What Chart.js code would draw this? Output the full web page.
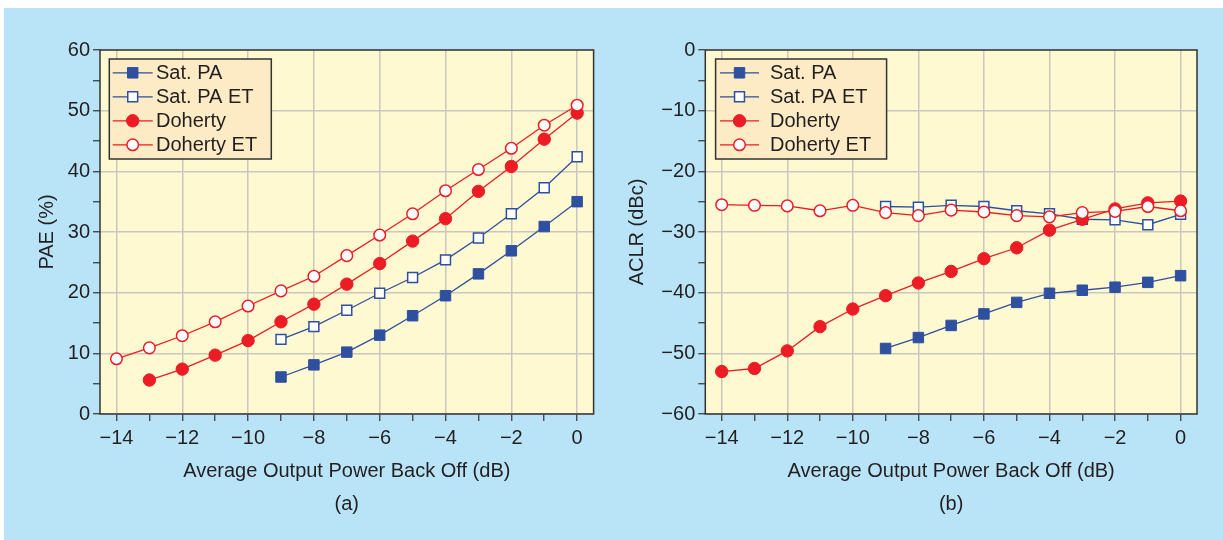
<!DOCTYPE html>
<html>
<head>
<meta charset="utf-8">
<script src="https://cdn.jsdelivr.net/npm/chart.js@4.4.1/dist/chart.umd.min.js"></script>
<style>
    body { margin: 0; background: #ffffff; width: 1223px; height: 540px; overflow: hidden; position: relative; }
    #panel { position: absolute; left: 4px; top: 8px; width: 1219px; height: 532px; background: #b9e4f8; }
    canvas { position: absolute; top: 0; }
    #paeChart { left: 0; }
    #aclrChart { left: 611px; }
</style>
</head>
<body>
<div id="panel"></div>
<canvas id="paeChart" width="611" height="540"></canvas>
<canvas id="aclrChart" width="612" height="540"></canvas>

<script>
// x values (average output power back off, dB)
const backoffShort = [-9, -8, -7, -6, -5, -4, -3, -2, -1, 0];
const backoff13 = [-13, -12, -11, -10, -9, -8, -7, -6, -5, -4, -3, -2, -1, 0];
const backoff14 = [-14, -13, -12, -11, -10, -9, -8, -7, -6, -5, -4, -3, -2, -1, 0];

// (a) PAE (%)
const paeSatPa = [6.1, 8.1, 10.2, 13.0, 16.2, 19.5, 23.1, 26.9, 30.9, 35.0];
const paeSatPaEt = [12.3, 14.4, 17.1, 19.9, 22.5, 25.4, 29.0, 33.0, 37.3, 42.4];
const paeDoherty = [5.6, 7.4, 9.7, 12.1, 15.2, 18.1, 21.4, 24.8, 28.5, 32.2, 36.7, 40.8, 45.3, 49.6];
const paeDohertyEt = [9.1, 10.9, 12.9, 15.2, 17.8, 20.3, 22.7, 26.1, 29.5, 33.0, 36.8, 40.3, 43.8, 47.6, 50.9];

// (b) ACLR (dBc)
const aclrSatPa = [-49.2, -47.4, -45.4, -43.5, -41.6, -40.1, -39.6, -39.1, -38.3, -37.2];
const aclrSatPaEt = [-25.8, -25.9, -25.6, -25.8, -26.5, -27.0, -27.9, -28.0, -28.8, -27.1];
const aclrDoherty = [-53.0, -52.5, -49.6, -45.6, -42.7, -40.5, -38.4, -36.5, -34.4, -32.6, -29.7, -27.9, -26.2, -25.2, -24.9];
const aclrDohertyEt = [-25.5, -25.6, -25.7, -26.5, -25.6, -26.8, -27.3, -26.4, -26.7, -27.3, -27.5, -26.8, -26.6, -25.8, -26.5];

// tick marks at every integer back off, labels only on these
const xTicks = backoff14;
const xTickLabels = [-14, -12, -10, -8, -6, -4, -2, 0];
const paeTickLabels = [0, 10, 20, 30, 40, 50, 60];
const aclrTickLabels = [0, -10, -20, -30, -40, -50, -60];

const seriesNames = ['Sat. PA', 'Sat. PA ET', 'Doherty', 'Doherty ET'];

const BLUE = '#2f4f9f';
const RED = '#ec1c24';
const TEXT = '#231f20';
const GRID = '#c9c7c0';
const AXIS = '#333333';

Chart.defaults.font.family = '"Liberation Sans", Arial, sans-serif';
Chart.defaults.font.size = 20;
Chart.defaults.color = TEXT;

function fmt(v) {
    return v < 0 ? '\u2212' + Math.abs(v) : String(v);
}

function points(xs, ys) {
    return xs.map(function (x, i) { return { x: x, y: ys[i] }; });
}

function makeDatasets(xsA, a, xsB, b, xsC, c, xsD, d) {
    return [
        { label: seriesNames[0], data: points(xsA, a), borderColor: BLUE, backgroundColor: BLUE,
          pointStyle: 'rect', pointRadius: 7.4, pointBorderWidth: 1, pointBackgroundColor: BLUE, order: 4 },
        { label: seriesNames[1], data: points(xsB, b), borderColor: BLUE, backgroundColor: '#ffffff',
          pointStyle: 'rect', pointRadius: 7, pointBorderWidth: 1.5, pointBackgroundColor: '#ffffff', order: 3 },
        { label: seriesNames[2], data: points(xsC, c), borderColor: RED, backgroundColor: RED,
          pointStyle: 'circle', pointRadius: 6.2, pointBorderWidth: 1, pointBackgroundColor: RED, order: 2 },
        { label: seriesNames[3], data: points(xsD, d), borderColor: RED, backgroundColor: '#ffffff',
          pointStyle: 'circle', pointRadius: 5.8, pointBorderWidth: 1.5, pointBackgroundColor: '#ffffff', order: 1 }
    ];
}

// plot background, frame and the boxed legend inside the plot
const framePlugin = {
    id: 'frame',
    beforeDraw(chart) {
        const a = chart.chartArea;
        const ctx = chart.ctx;
        ctx.save();
        ctx.fillStyle = '#fef9d1';
        ctx.fillRect(a.left, a.top, a.right - a.left, a.bottom - a.top);
        ctx.restore();
    },
    afterDatasetsDraw(chart, args, opts) {
        const a = chart.chartArea;
        const ctx = chart.ctx;
        ctx.save();
        ctx.strokeStyle = AXIS;
        ctx.lineWidth = 1.5;
        ctx.strokeRect(a.left, a.top, a.right - a.left, a.bottom - a.top);

        // legend box
        const bx = a.left + opts.x, by = a.top + opts.y;
        ctx.fillStyle = '#fcebc4';
        ctx.fillRect(bx, by, opts.width, 100);
        ctx.strokeRect(bx, by, opts.width, 100);

        ctx.font = '20px "Liberation Sans", Arial, sans-serif';
        ctx.textBaseline = 'middle';
        chart.data.datasets.forEach(function (ds, i) {
            const y = by + 13.8 + i * 24;
            const x0 = bx + opts.lineX;
            const cx = x0 + opts.lineLen / 2;
            ctx.strokeStyle = ds.borderColor;
            ctx.lineWidth = 1.3;
            ctx.beginPath();
            ctx.moveTo(x0, y);
            ctx.lineTo(x0 + opts.lineLen, y);
            ctx.stroke();
            ctx.fillStyle = ds.pointBackgroundColor;
            ctx.lineWidth = ds.pointBorderWidth;
            ctx.beginPath();
            if (ds.pointStyle === 'rect') {
                const s = ds.pointRadius * Math.SQRT1_2;
                ctx.rect(cx - s, y - s, 2 * s, 2 * s);
            } else {
                ctx.arc(cx, y, ds.pointRadius, 0, Math.PI * 2);
            }
            ctx.fill();
            ctx.stroke();
            ctx.fillStyle = TEXT;
            ctx.fillText(ds.label, bx + opts.textX, y + 1);
        });
        ctx.restore();
    }
};

function makeChart(id, datasets, yMin, yMax, yLabels, yTitle, letter, geo) {
    return new Chart(document.getElementById(id), {
        type: 'line',
        data: { datasets: datasets },
        options: {
            responsive: false,
            animation: false,
            layout: { padding: { left: 0, top: 50, right: geo.padRight, bottom: 0 } },
            elements: { line: { borderWidth: 1.3, tension: 0 } },
            plugins: {
                legend: { display: false },
                tooltip: { enabled: false },
                frame: geo.legend
            },
            scales: {
                x: {
                    type: 'linear',
                    min: -14.5,
                    max: 0.5,
                    afterBuildTicks: function (scale) {
                        scale.ticks = xTicks.map(function (v) { return { value: v }; });
                    },
                    afterFit: function (scale) { scale.height = 126; },
                    border: { display: false },
                    grid: {
                        color: function (c) { return c.tick && xTickLabels.includes(c.tick.value) ? GRID : 'rgba(0,0,0,0)'; },
                        lineWidth: 1.5,
                        tickColor: AXIS,
                        tickWidth: 1.2,
                        tickLength: 7
                    },
                    ticks: {
                        autoSkip: false,
                        maxRotation: 0,
                        padding: 5,
                        callback: function (v) { return xTickLabels.includes(v) ? fmt(v) : ''; }
                    },
                    title: {
                        display: true,
                        text: ['Average Output Power Back Off (dB)', letter],
                        font: { size: 20, lineHeight: 1.65 },
                        padding: { top: 0, bottom: 19.5 }
                    }
                },
                y: {
                    type: 'linear',
                    min: yMin,
                    max: yMax,
                    afterFit: function (scale) { scale.width = geo.yWidth; },
                    border: { display: false },
                    grid: {
                        color: function (c) { return c.tick && yLabels.includes(c.tick.value) ? GRID : 'rgba(0,0,0,0)'; },
                        lineWidth: 1.5,
                        tickColor: AXIS,
                        tickWidth: 1.2,
                        tickLength: 7
                    },
                    ticks: {
                        stepSize: 5,
                        autoSkip: false,
                        padding: 3,
                        callback: function (v) { return yLabels.includes(v) ? fmt(v) : ''; }
                    },
                    title: {
                        display: true,
                        text: yTitle,
                        font: { size: 20 },
                        padding: { top: geo.yTitlePad, bottom: 0 }
                    }
                }
            }
        },
        plugins: [framePlugin]
    });
}

makeChart('paeChart',
    makeDatasets(backoffShort, paeSatPa, backoffShort, paeSatPaEt, backoff13, paeDoherty, backoff14, paeDohertyEt),
    0, 60, paeTickLabels, 'PAE (%)', '(a)',
    { padRight: 17.4, yWidth: 100, yTitlePad: 35.5,
      legend: { x: 9.3, y: 9, width: 162, lineX: 3.4, lineLen: 40, textX: 46.7 } });

makeChart('aclrChart',
    makeDatasets(backoffShort, aclrSatPa, backoffShort, aclrSatPaEt, backoff14, aclrDoherty, backoff14, aclrDohertyEt),
    -60, 0, aclrTickLabels, 'ACLR (dBc)', '(b)',
    { padRight: 26, yWidth: 94.3, yTitlePad: 14,
      legend: { x: 10.3, y: 9, width: 171, lineX: 4.4, lineLen: 39, textX: 54.4 } });
</script>
</body>
</html>
